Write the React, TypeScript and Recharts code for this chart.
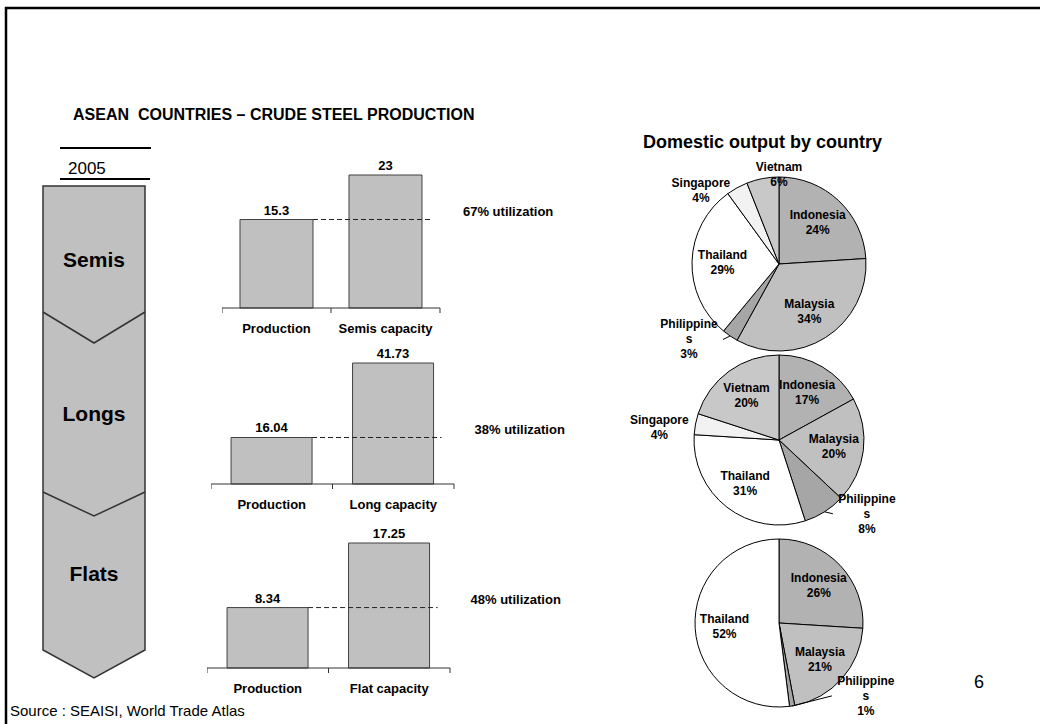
import React from 'react'
import { BarChart, Bar, XAxis, YAxis, LabelList, PieChart, Pie, Cell } from 'recharts'

// 2005 crude steel, million tonnes
const SEGMENTS = ['Semis', 'Longs', 'Flats']
const CAPACITY_NAMES = ['Semis capacity', 'Long capacity', 'Flat capacity']
const PRODUCTION = [15.3, 16.04, 8.34]
const CAPACITY = [23, 41.73, 17.25]

// domestic output share by country, %
const COUNTRIES = ['Indonesia', 'Malaysia', 'Philippines', 'Thailand', 'Singapore', 'Vietnam']
const SEMIS_SHARE = [24, 34, 3, 29, 4, 6]
const LONGS_SHARE = [17, 20, 8, 31, 4, 20]
const FLATS_SHARE = [26, 21, 1, 52, 0, 0]
const SHARES = [SEMIS_SHARE, LONGS_SHARE, FLATS_SHARE]

const COUNTRY_FILL = ['#b2b2b2', '#c0c0c0', '#a6a6a6', '#ffffff', '#f2f2f2', '#c8c8c8']

const FONT = 'Arial, "Liberation Sans", Helvetica, sans-serif'
const RAD = Math.PI / 180
const GAP = 0.165

// where each little bar chart sits on the slide
const BAR_FRAMES = [
  { left: 222, width: 218, plotTop: 175, axisY: 308 },
  { left: 211, width: 243, plotTop: 363, axisY: 484 },
  { left: 207, width: 243, plotTop: 543, axisY: 668 },
]
const PIE_FRAMES = [
  { cy: 134, r: 87 },
  { cy: 310, r: 85 },
  { cy: 493, r: 84 },
]
const PIE_CX = 179

const labelText = {
  fontFamily: FONT,
  fontSize: 12,
  fontWeight: 'bold' as const,
  fill: '#000',
  textAnchor: 'middle' as const,
  dominantBaseline: 'central' as const,
}

function wrapName(name: string) {
  return name.length > 10 ? [name.slice(0, 10), name.slice(10)] : [name]
}

function TextBlock({ x, y, lines }: { x: number; y: number; lines: string[] }) {
  const n = lines.length
  return (
    <g>
      {lines.map((t, i) => (
        <text key={i} x={x} y={y + (i - (n - 1) / 2) * 15} {...labelText}>
          {t}
        </text>
      ))}
    </g>
  )
}

function SliceLabel(props: any) {
  const { cx, cy, midAngle, outerRadius } = props
  const name = props.name ?? props.payload?.name
  const value = props.value ?? props.payload?.value
  const r = outerRadius
  const theta = (((90 - midAngle) % 360) + 360) % 360
  const sin = Math.sin(theta * RAD)
  const cos = Math.cos(theta * RAD)
  const ex = cx + r * sin
  const ey = cy - r * cos
  const pct = `${value}%`

  if (value >= 9) {
    return <TextBlock x={cx + 0.65 * r * sin} y={cy - 0.65 * r * cos} lines={[name, pct]} />
  }
  if (theta > 90 && theta < 270) {
    // small slices at the bottom: label on the diagonal with a short leader
    const phi = theta < 180 ? 130 : 230
    const side = theta < 180 ? 1 : -1
    const lx = cx + 1.35 * r * Math.sin(phi * RAD)
    const ly = cy - 1.35 * r * Math.cos(phi * RAD)
    return (
      <g>
        <line x1={ex} y1={ey} x2={lx - side * 34} y2={ly} stroke="#000" strokeWidth={1} />
        <TextBlock x={lx} y={ly} lines={[...wrapName(name), pct]} />
      </g>
    )
  }
  if (Math.abs(sin) < 0.3) {
    return <TextBlock x={cx} y={cy - r - 3} lines={[name, pct]} />
  }
  const w = name.length * 6.7
  const side = sin > 0 ? 1 : -1
  return <TextBlock x={ex + side * (6 + w / 2)} y={ey + 3} lines={[name, pct]} />
}

function CapacityChart({ i }: { i: number }) {
  const f = BAR_FRAMES[i]
  const data = [
    { name: 'Production', value: PRODUCTION[i] },
    { name: CAPACITY_NAMES[i], value: CAPACITY[i] },
  ]
  const util = Math.round((PRODUCTION[i] / CAPACITY[i]) * 100)
  const band = f.width / data.length
  const TOP = 30
  const AXIS_H = 32
  const RIGHT = 150
  const plotH = f.axisY - f.plotTop

  // dashed line from the top of the production bar across the capacity bar
  const utilLine = (p: any) => {
    const vb = p.viewBox ?? p
    if (Number(p.value) !== PRODUCTION[i] || !vb) return null
    const { x, y, width } = vb
    const end = x + width + band + 8
    return (
      <g>
        <line x1={x + width} y1={y} x2={end} y2={y} stroke="#222" strokeWidth={1} strokeDasharray="5 3" />
        <text
          x={end + 33}
          y={y - 8}
          fontFamily={FONT}
          fontSize={13}
          fontWeight="bold"
          fill="#000"
          dominantBaseline="central"
        >
          {`${util}% utilization`}
        </text>
      </g>
    )
  }

  // category label plus tick marks on the band edges
  const tick = (p: any) => {
    const half = band / 2
    const last = p.index === data.length - 1
    return (
      <g>
        <line x1={p.x - half} y1={p.y} x2={p.x - half} y2={p.y + 5} stroke="#333" strokeWidth={1} />
        {last && <line x1={p.x + half} y1={p.y} x2={p.x + half} y2={p.y + 5} stroke="#333" strokeWidth={1} />}
        <text
          x={p.x}
          y={p.y + 20}
          fontFamily={FONT}
          fontSize={13}
          fontWeight="bold"
          fill="#000"
          textAnchor="middle"
          dominantBaseline="central"
        >
          {p.payload.value}
        </text>
      </g>
    )
  }

  return (
    <div style={{ position: 'absolute', left: f.left, top: f.plotTop - TOP }}>
      <BarChart
        width={f.width + RIGHT}
        height={TOP + plotH + AXIS_H}
        data={data}
        margin={{ top: TOP, right: RIGHT, bottom: 0, left: 0 }}
        barCategoryGap={`${GAP * 100}%`}
      >
        <XAxis
          dataKey="name"
          type="category"
          axisLine={{ stroke: '#333' }}
          tickLine={false}
          tickSize={0}
          tickMargin={0}
          height={AXIS_H}
          interval={0}
          tick={tick}
        />
        <YAxis hide domain={[0, 'dataMax']} />
        <Bar dataKey="value" fill="#c0c0c0" stroke="#404040" strokeWidth={1} isAnimationActive={false}>
          <LabelList
            dataKey="value"
            position="top"
            offset={5}
            style={{ fontSize: 13, fontWeight: 'bold', fill: '#000', fontFamily: FONT }}
          />
          <LabelList dataKey="value" content={utilLine} />
        </Bar>
      </BarChart>
    </div>
  )
}

const SEGMENT_LABEL_Y = [259, 413, 573]

export default function App() {
  return (
    <div
      style={{
        position: 'absolute',
        left: 0,
        top: 0,
        width: 1040,
        height: 724,
        background: '#fff',
        overflow: 'hidden',
        fontFamily: FONT,
      }}
    >
      <svg width={1040} height={724} style={{ position: 'absolute', left: 0, top: 0 }}>
        <line x1={5} y1={8} x2={1040} y2={8} stroke="#000" strokeWidth={2.5} />
        <line x1={6} y1={7} x2={6} y2={724} stroke="#000" strokeWidth={2.5} />
        <text x={73} y={120} fontFamily={FONT} fontSize={16} fontWeight="bold" fill="#000" style={{ whiteSpace: 'pre' }}>
          {'ASEAN  COUNTRIES \u2013 CRUDE STEEL PRODUCTION'}
        </text>
        <line x1={60} y1={148} x2={151} y2={148} stroke="#000" strokeWidth={2} />
        <text x={68} y={174} fontFamily={FONT} fontSize={17} fill="#000">
          2005
        </text>
        <line x1={60} y1={179} x2={150} y2={179} stroke="#000" strokeWidth={2} />
        <polygon
          points="43,186 145,186 145,650 94,678 43,650"
          fill="#c0c0c0"
          stroke="#333"
          strokeWidth={1.5}
        />
        <polyline points="43,312 94,343 145,312" fill="none" stroke="#333" strokeWidth={1.5} />
        <polyline points="43,492 94,516 145,492" fill="none" stroke="#333" strokeWidth={1.5} />
        {SEGMENTS.map((s, i) => (
          <text
            key={s}
            x={94}
            y={SEGMENT_LABEL_Y[i]}
            fontFamily={FONT}
            fontSize={21}
            fontWeight="bold"
            fill="#000"
            textAnchor="middle"
            dominantBaseline="central"
          >
            {s}
          </text>
        ))}
        <text x={643} y={148} fontFamily={FONT} fontSize={18} fontWeight="bold" fill="#000">
          Domestic output by country
        </text>
        <text x={10} y={716} fontFamily={FONT} fontSize={15} fill="#000">
          Source : SEAISI, World Trade Atlas
        </text>
        <text x={974} y={688} fontFamily={FONT} fontSize={18} fill="#000">
          6
        </text>
      </svg>

      {SEGMENTS.map((s, i) => (
        <CapacityChart key={s} i={i} />
      ))}

      <div style={{ position: 'absolute', left: 600, top: 130 }}>
        <PieChart width={440} height={594} margin={{ top: 0, right: 0, bottom: 0, left: 0 }}>
          {SHARES.map((shares, p) => {
            const data = COUNTRIES.map((name, k) => ({ name, value: shares[k], fill: COUNTRY_FILL[k] })).filter(
              (d) => d.value > 0
            )
            return (
              <Pie
                key={SEGMENTS[p]}
                data={data}
                dataKey="value"
                nameKey="name"
                cx={PIE_CX}
                cy={PIE_FRAMES[p].cy}
                outerRadius={PIE_FRAMES[p].r}
                startAngle={90}
                endAngle={-270}
                stroke="#000"
                strokeWidth={1}
                label={SliceLabel}
                labelLine={false}
                isAnimationActive={false}
              >
                {data.map((d) => (
                  <Cell key={d.name} fill={d.fill} />
                ))}
              </Pie>
            )
          })}
        </PieChart>
      </div>
    </div>
  )
}
